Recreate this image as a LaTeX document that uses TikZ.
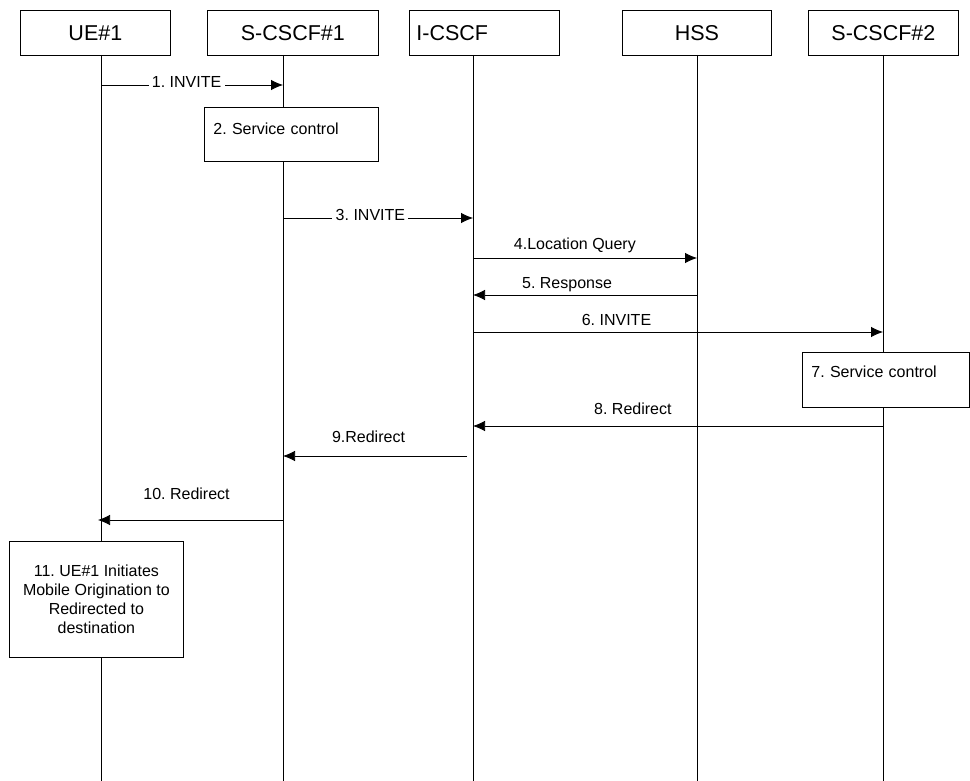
\documentclass[tikz,border=0pt]{standalone}
\usepackage{fontspec}
\setmainfont{Liberation Sans}
\usetikzlibrary{arrows.meta,positioning}
\frenchspacing

\begin{document}
\begin{tikzpicture}[>={Latex[length=12pt,width=10.5pt]},x=1pt,y=-1pt,line width=0.75pt,
  head/.style={draw,fill=white,minimum height=45pt,inner sep=0pt,font=\fontsize{21.5}{25}\selectfont},
  lbl/.style={font=\fontsize{16}{19}\selectfont,text height=0.75em,text depth=0.25em,inner sep=3.3pt},
  msg/.style={->},
  act/.style={draw,fill=white,inner sep=0pt,font=\fontsize{16}{19}\selectfont}]
\useasboundingbox (0,0) rectangle (970,781);
% entities
\node[head,anchor=north west,minimum width=150pt] (ue) at (20,10) {UE\#1};
\node[head,anchor=north west,minimum width=171pt] (scscfa) at (207,10) {S-CSCF\#1};
\node[head,anchor=north west,text width=136pt,inner xsep=7pt,align=left] (icscf) at (409,10) {I-CSCF};
\node[head,anchor=north west,minimum width=149pt] (hss) at (622,10) {HSS};
\node[head,anchor=north west,minimum width=150pt] (scscfb) at (808,10) {S-CSCF\#2};
% lifelines
\coordinate (ueT) at (101,55);\coordinate (s1T) at (283,55);\coordinate (icT) at (473,55);
\coordinate (hsT) at (697,55);\coordinate (s2T) at (883,55);
\foreach \c in {ueT,s1T,icT,hsT,s2T} \draw (\c) -- (\c |- 0,781);
% messages
\draw[msg] (ueT |- 0,85) -- node[lbl,fill=white,pos=0.47] (m1) {1. INVITE} (s1T |- 0,85);
\node[act,anchor=north west,inner xsep=9pt,text width=156pt,text height=27pt,text depth=27pt,align=left] (sc1) at (204,107) {2. Service control};
\draw[msg] (s1T |- 0,218) -- node[lbl,fill=white,pos=0.46] (m3) {3. INVITE} (icT |- 0,218);
\draw[msg] (icT |- 0,258) -- node[lbl,pos=0.455,above=2pt] (m4) {4.Location Query} (hsT |- 0,258);
\draw[msg] (hsT |- 0,295) -- node[lbl,pos=0.58,above=0pt] (m5) {5. Response} (icT |- 0,295);
\draw[msg] (icT |- 0,332) -- node[lbl,pos=0.35,above=0pt] (m6) {6. INVITE} (s2T |- 0,332);
\node[act,anchor=north west,inner xsep=9pt,text width=149pt,text height=25pt,text depth=30pt,align=left] (sc2) at (802,352) {7. Service control};
\draw[msg] (s2T |- 0,426) -- node[lbl,pos=0.61,above=5pt] (m8) {8. Redirect} (icT |- 0,426);
\draw[msg,shorten <=6pt] (icT |- 0,456) -- node[lbl,pos=0.55,above=7pt] (m9) {9.Redirect} (s1T |- 0,456);
\draw[msg,shorten >=-3pt] (s1T |- 0,520) -- node[lbl,pos=0.53,above=14pt] (m10) {10. Redirect} (ueT |- 0,520);
\node[act,anchor=north west,minimum width=174pt,minimum height=116pt,align=center] (mo) at (9,541) {11. UE\#1 Initiates\\Mobile Origination to\\Redirected to\\destination};
\end{tikzpicture}
\end{document}
